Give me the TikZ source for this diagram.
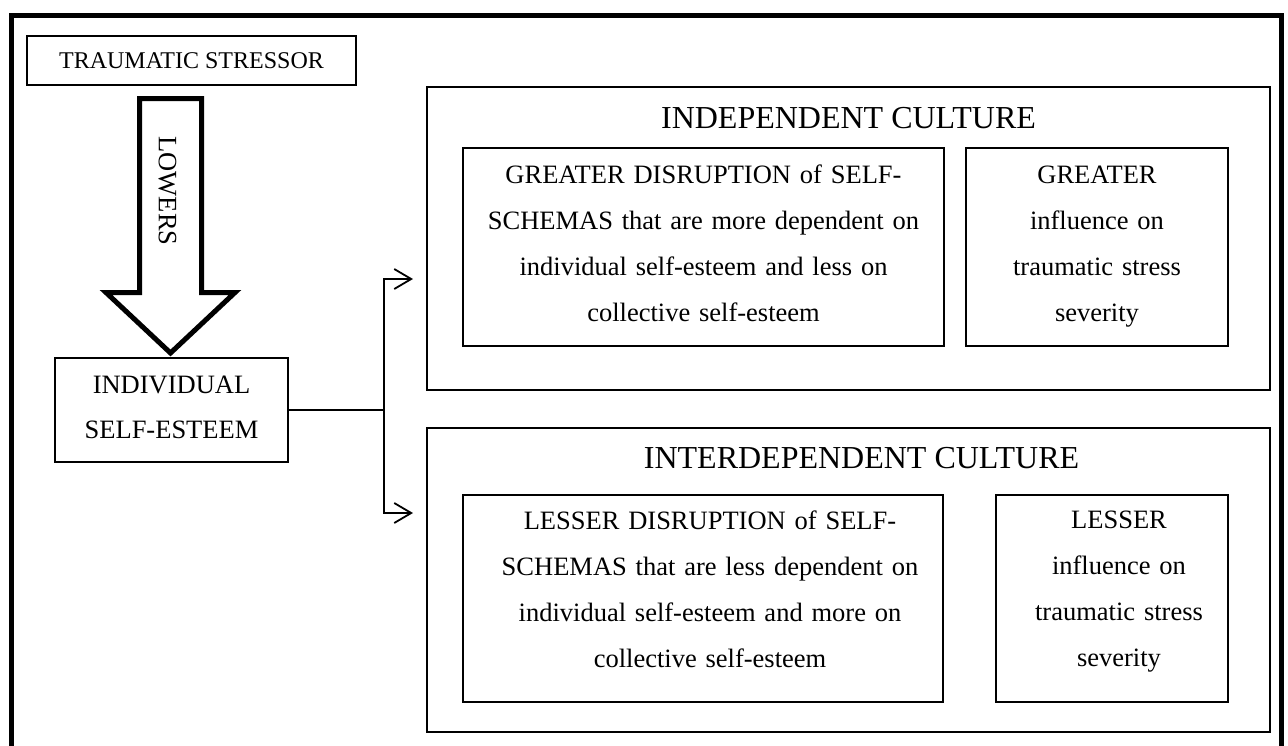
\documentclass[tikz,border=0pt]{standalone}
\usepackage{fontspec}
\setmainfont{Liberation Serif}
\usetikzlibrary{arrows.meta}
\begin{document}
\begin{tikzpicture}[x=1pt,y=-1pt,
  frame/.style={draw, line width=#1, inner sep=0pt},
  txt/.style={inner sep=0pt, anchor=base, align=center, text width=#1},
  body/.style={font=\fontsize{26.5}{46}\selectfont},
  title/.style={font=\fontsize{32}{38}\selectfont, inner sep=0pt, anchor=base},
  conn/.style={line width=1.8pt, -{Straight Barb[length=17pt,width=20pt]}}
]
\useasboundingbox (0,0) rectangle (1288,745);
\fill[white] (0,0) rectangle (1288,745);
\clip (0,0) rectangle (1288,745);

% outer frame (bottom edge lies outside the picture)
\draw[line width=5pt, miter limit=10] (11.5,770) -- (11.5,15) -- (1281.5,15) -- (1281.5,770);

% traumatic stressor
\node[frame=1.3pt, minimum width=329pt, minimum height=49pt,
      font=\fontsize{24}{28}\selectfont] (trauma) at (191.5,60.5) {TRAUMATIC STRESSOR};

% big hollow arrow
\draw[line width=5pt, miter limit=10]
  (139.5,98.5) -- (201.5,98.5) -- (201.5,292.5) -- (235,292.5) -- (170.5,353)
  -- (106,292.5) -- (139.5,292.5) -- cycle;
\node[inner sep=0pt, rotate=-90, body] (lowers) at (167.5,191) {LOWERS};

% individual self-esteem
\node[frame=1.3pt, minimum width=233pt, minimum height=104pt] (ind) at (171.5,410) {};
\node[txt=230pt, body, font=\fontsize{26.5}{45}\selectfont] (indtxt) at (171.5,393) {INDIVIDUAL\\SELF-ESTEEM};

% independent culture
\node[frame=2pt, minimum width=843pt, minimum height=303pt] (indep) at (848.5,238.5) {};
\node[title] (indepT) at (848.5,128) {INDEPENDENT CULTURE};
\node[frame=1.8pt, minimum width=481pt, minimum height=198pt] (indepL) at (703.5,247) {};
\node[txt=470pt, body] (indepLt) at (703.5,183)
  {GREATER DISRUPTION of SELF-\\SCHEMAS that are more dependent on\\individual self-esteem and less on\\collective self-esteem};
\node[frame=1.4pt, minimum width=262pt, minimum height=198pt] (indepR) at (1097,247) {};
\node[txt=250pt, body] (indepRt) at (1097,183)
  {GREATER\\influence on\\traumatic stress\\severity};

% interdependent culture
\node[frame=2pt, minimum width=843pt, minimum height=304pt] (inter) at (848.5,580) {};
\node[title] (interT) at (861.5,468) {INTERDEPENDENT CULTURE};
\node[frame=1.8pt, minimum width=480pt, minimum height=207pt] (interL) at (703,598.5) {};
\node[txt=470pt, body] (interLt) at (710,529)
  {LESSER DISRUPTION of SELF-\\SCHEMAS that are less dependent on\\individual self-esteem and more on\\collective self-esteem};
\node[frame=1.4pt, minimum width=232pt, minimum height=207pt] (interR) at (1112,598.5) {};
\node[txt=225pt, body] (interRt) at (1119,528)
  {LESSER\\influence on\\traumatic stress\\severity};

% connectors
\coordinate (j) at (384,410);
\coordinate (a1) at (413,279);
\coordinate (a2) at (413,513);
\draw[line width=1.8pt] (ind.east) -- (j);
\draw[conn] (j) |- (a1);
\draw[conn] (j) |- (a2);
\end{tikzpicture}
\end{document}
